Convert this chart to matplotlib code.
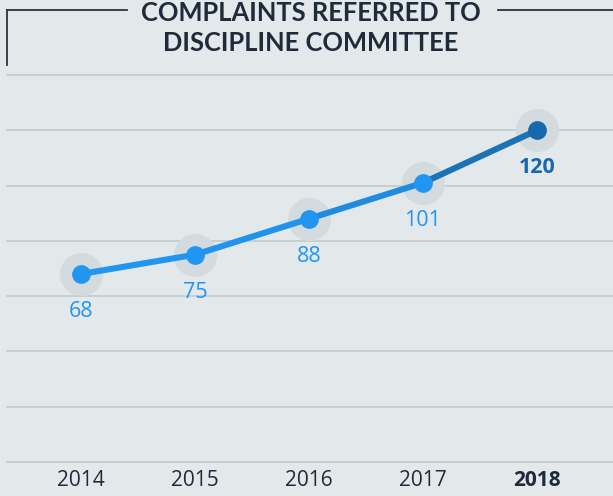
#!/usr/bin/env python
# line chart: complaints referred to discipline committee
import numpy as np
import matplotlib.pyplot as plt
from matplotlib.lines import Line2D

years = [2014, 2015, 2016, 2017, 2018]
complaints = [68, 75, 88, 101, 120]
year_labels = ['2014', '2015', '2016', '2017', '2018']

bg = '#e3e8ea'
navy = '#1f2b3b'
light_blue = '#2196f0'
dark_blue = '#1769ad'

plt.rcParams['font.family'] = ['Open Sans', 'DejaVu Sans']

fig = plt.figure(figsize=(6.13, 4.96), dpi=100, facecolor=bg)
ax = fig.add_axes([7 / 613, 1 - 462 / 496, 606 / 613, (462 - 75) / 496])
ax.set_facecolor(bg)
ax.set_xlim(2013.351, 2018.667)
ax.set_ylim(0, 140)

# grid
for v in np.arange(0, 141, 20):
    ax.axhline(v, color='#c0cdcc', lw=1.2, zorder=1, clip_on=False)

# line segments, darker towards the end
seg_colors = ['#2196f0', '#2094ec', '#1f8ce0', '#1a73b6']
for i in range(len(years) - 1):
    ax.plot(years[i:i + 2], complaints[i:i + 2], color=seg_colors[i], lw=4.4,
            solid_capstyle='round', zorder=3)

# halos and dots
ax.plot(years, complaints, 'o', ms=31, color='#d4dbde', mec='none', zorder=2)
for i, (x, y) in enumerate(zip(years, complaints)):
    c = dark_blue if i == len(years) - 1 else light_blue
    ax.plot(x, y, 'o', ms=13.5, color=c, mec='none', zorder=4)
    ax.annotate(str(y), (x, y), xytext=(0, -27), textcoords='offset points',
                ha='center', va='center', fontsize=15.5, color=c,
                fontweight='bold' if i == len(years) - 1 else 'normal')

ax.set_xticks(years)
ax.set_xticklabels(year_labels, fontsize=15, color=navy)
ax.get_xticklabels()[-1].set_fontweight('bold')
ax.tick_params(axis='x', length=0, pad=6)
ax.set_yticks([])
for s in ax.spines.values():
    s.set_visible(False)

# title with frame lines
fig.text(311 / 613, 1 - 13 / 496, 'COMPLAINTS REFERRED TO', ha='center', va='center',
         fontsize=18.4, fontweight='bold', color=navy, family='Lato')
fig.text(311 / 613, 1 - 43 / 496, 'DISCIPLINE COMMITTEE', ha='center', va='center',
         fontsize=18.4, fontweight='bold', color=navy, family='Lato')
fc = '#2c3540'
fig.add_artist(Line2D([7 / 613, 127 / 613], [1 - 10 / 496] * 2, color=fc, lw=1.3))
fig.add_artist(Line2D([7 / 613, 7 / 613], [1 - 10 / 496, 1 - 65 / 496], color=fc, lw=1.3))
fig.add_artist(Line2D([498 / 613, 1.0], [1 - 10 / 496] * 2, color=fc, lw=1.3))

fig.savefig('out.png', dpi=100, facecolor=bg)
